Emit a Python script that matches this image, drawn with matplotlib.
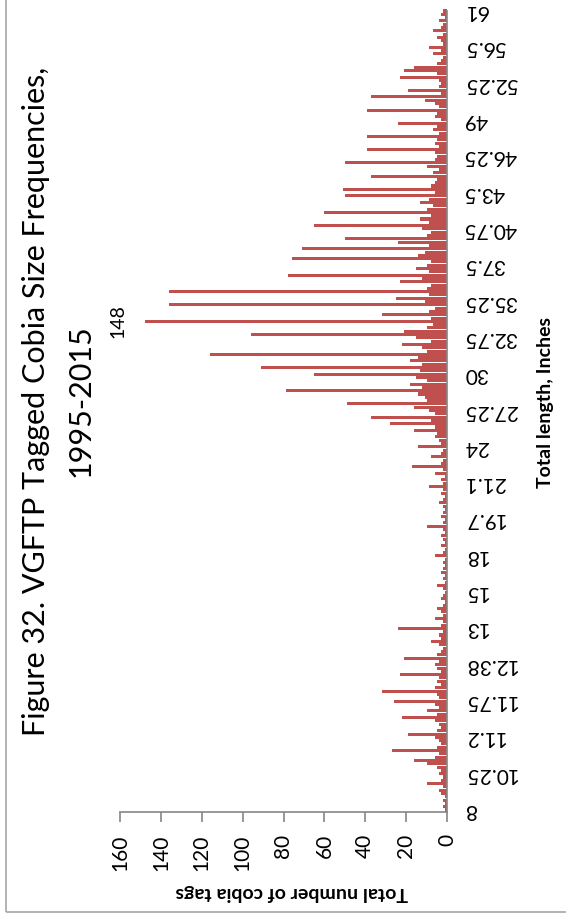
import matplotlib
matplotlib.use('Agg')
import matplotlib.pyplot as plt
import numpy as np
from matplotlib.patches import Rectangle

# category labels shown on the length axis (every 11th category)
length_labels = ['8', '10.25', '11.2', '11.75', '12.38', '13', '15', '18', '19.7', '21.1',
                 '24', '27.25', '30', '32.75', '35.25', '37.5', '40.75', '43.5', '46.25',
                 '49', '52.25', '56.5', '61']
label_every = 11

# number of tags per length category, smallest length first
tag_counts = [
    1, 2, 1, 2, 1, 3, 4, 2, 10, 3,
    2, 4, 3, 5, 10, 16, 6, 4, 27, 5,
    3, 4, 6, 19, 5, 3, 4, 6, 22, 5,
    10, 4, 6, 26, 4, 5, 32, 6, 3, 5,
    4, 23, 3, 5, 6, 4, 21, 5, 3, 2,
    4, 8, 3, 4, 2, 24, 3, 2, 6, 2,
    3, 5, 2, 1, 3, 2, 1, 2, 5, 1,
    2, 1, 3, 2, 1, 2, 1, 6, 2, 1,
    3, 1, 2, 3, 1, 2, 10, 2, 1, 3,
    2, 1, 2, 4, 2, 1, 3, 2, 9, 2,
    3, 1, 6, 2, 17, 3, 2, 8, 3, 2,
    14, 3, 4, 6, 5, 16, 6, 28, 8, 37,
    6, 9, 16, 49, 10, 11, 14, 79, 12, 18,
    10, 15, 65, 13, 91, 12, 18, 14, 116, 10,
    12, 22, 8, 15, 96, 21, 10, 7, 148, 8,
    32, 9, 6, 136, 11, 25, 9, 136, 10, 8,
    23, 12, 78, 9, 15, 10, 8, 76, 14, 11,
    71, 9, 24, 50, 10, 8, 12, 65, 9, 13,
    8, 60, 10, 7, 13, 9, 50, 6, 51, 8,
    6, 5, 37, 7, 4, 10, 50, 6, 5, 6,
    39, 4, 6, 5, 39, 4, 7, 5, 24, 3,
    6, 5, 39, 4, 6, 11, 37, 3, 19, 4,
    3, 4, 23, 5, 21, 16, 5, 3, 2, 7,
    3, 9, 2, 3, 5, 2, 7, 3, 2, 4,
    1, 3, 2,
]
value_ticks = [0, 20, 40, 60, 80, 100, 120, 140, 160]

bar_color = '#C0504D'
axis_color = '#868686'

plt.rcParams['font.family'] = ['Lato', 'DejaVu Sans']

W, H = 566, 921
fig = plt.figure(figsize=(W / 100, H / 100), dpi=100)
fig.patch.set_facecolor('white')

# chart border (only left and bottom edges fall inside the picture)
fig.patches.append(Rectangle((6 / W, 9 / H), 2, 2, transform=fig.transFigure,
                             fill=False, edgecolor='#A6A6A6', lw=1.2))

# category axis sits "on tick marks": first and last category at the plot edges
ax = fig.add_axes([120 / W, 111 / H, 327 / W, 799 / H])
pos = np.arange(len(tag_counts))
ax.barh(pos, tag_counts, height=0.92, color=bar_color, edgecolor='none', clip_on=False)

ax.set_xlim(160, 0)
ax.set_ylim(0, len(tag_counts) - 1)

for side in ['left', 'top']:
    ax.spines[side].set_visible(False)
ax.spines['right'].set_bounds(-0.6, len(tag_counts) - 1)
for side in ['right', 'bottom']:
    ax.spines[side].set_color(axis_color)
    ax.spines[side].set_linewidth(1.2)
ax.spines['bottom'].set_position(('data', -0.6))

ax.set_xticks(value_ticks)
ax.set_xticklabels([str(v) for v in value_ticks], rotation=90, fontsize=15)
ax.tick_params(axis='x', direction='out', length=7, width=1.2, color=axis_color, pad=9)

ax.yaxis.tick_right()
ax.set_yticks(pos[::label_every])
ax.set_yticklabels(length_labels, rotation=180, fontsize=15, va='center')
ax.tick_params(axis='y', length=0, pad=12)

# data label on the tallest bar
peak = int(np.argmax(tag_counts))
ax.annotate(str(tag_counts[peak]), xy=(tag_counts[peak], peak), xytext=(-13, 0),
            textcoords='offset points', rotation=90, ha='right', va='center', fontsize=14)

fig.text(36 / W, 1 - 401 / H, 'Figure 32. VGFTP Tagged Cobia Size Frequencies,',
         rotation=90, ha='center', va='center', fontsize=22)
fig.text(81 / W, 1 - 401 / H, '1995-2015', rotation=90, ha='center', va='center', fontsize=22)

fig.text(546 / W, 1 - 402 / H, 'Total length, Inches', rotation=90, ha='center',
         va='center', fontsize=14, fontweight='bold')
fig.text(292 / W, 1 - 892 / H, 'Total number of cobia tags', rotation=180, ha='center',
         va='center', fontsize=14, fontweight='bold')

fig.savefig('out.png', dpi=100)
